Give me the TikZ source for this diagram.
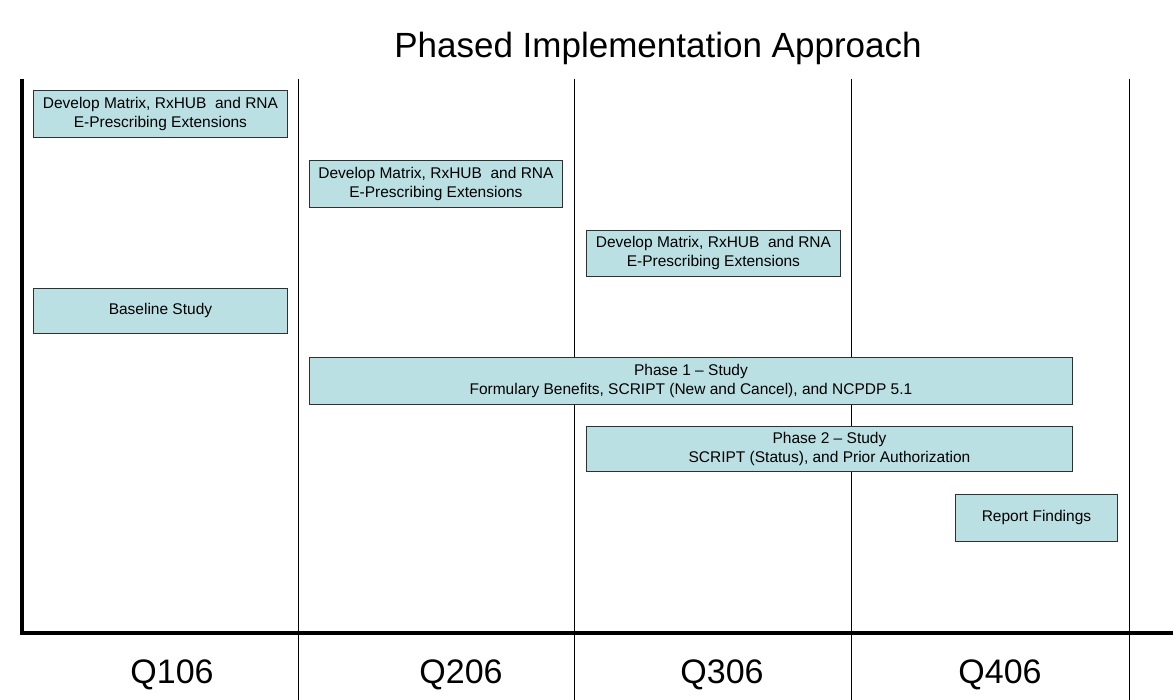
\documentclass[tikz,border=0pt]{standalone}
\usepackage{fontspec}
\setmainfont{Liberation Sans}
\definecolor{boxfill}{HTML}{BBE0E3}
\definecolor{boxline}{HTML}{303030}
\tikzset{
  taskbox/.style={draw=boxline, line width=0.9pt, fill=boxfill, anchor=north west, inner sep=0pt,
    align=center, font=\fontsize{15.5}{19}\selectfont},
  grid/.style={line width=1pt, black},
  axis/.style={line width=4pt, black},
  qlabel/.style={font=\fontsize{34}{40}\selectfont},
}
\begin{document}
\begin{tikzpicture}[x=1pt,y=-1pt]
\useasboundingbox (0,0) rectangle (1173,700);
% title
\node[font=\fontsize{35}{42}\selectfont] (title) at (658,48) {Phased Implementation Approach};
% grid lines
\foreach \x in {298,574,851,1129} \draw[grid] (\x,79) -- (\x,700);
% axes
\draw[axis] (21.5,79) -- (21.5,632.5) -- (1173,632.5);
% boxes
\node[taskbox, minimum width=254pt, minimum height=47pt] (t1) at (33,90) {Develop Matrix, RxHUB\ \ and RNA\\E-Prescribing Extensions};
\node[taskbox, minimum width=253pt, minimum height=47pt] (t2) at (309,160) {Develop Matrix, RxHUB\ \ and RNA\\E-Prescribing Extensions};
\node[taskbox, minimum width=254pt, minimum height=46pt] (t3) at (586,230) {Develop Matrix, RxHUB\ \ and RNA\\E-Prescribing Extensions};
\node[taskbox, minimum width=254pt, minimum height=45pt] (t4) at (33,288) {Baseline Study};
\node[taskbox, minimum width=763pt, minimum height=47pt] (t5) at (309,357) {Phase 1 -- Study\\Formulary Benefits, SCRIPT (New and Cancel), and NCPDP 5.1};
\node[taskbox, minimum width=486pt, minimum height=45pt] (t6) at (586,426) {Phase 2 -- Study\\SCRIPT (Status), and Prior Authorization};
\node[taskbox, minimum width=162pt, minimum height=47pt] (t7) at (955,494) {Report Findings};
% quarter labels
\node[qlabel] (q1) at (172,675) {Q106};
\node[qlabel] (q2) at (461,675) {Q206};
\node[qlabel] (q3) at (722,675) {Q306};
\node[qlabel] (q4) at (1000,675) {Q406};
\end{tikzpicture}
\end{document}
